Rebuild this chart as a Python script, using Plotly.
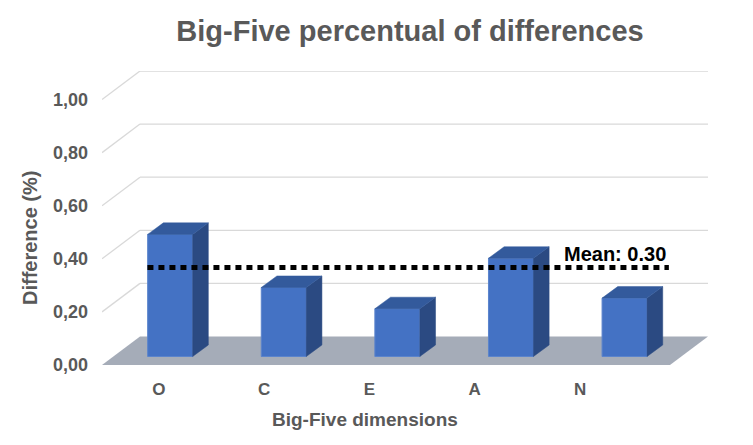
import plotly.graph_objects as go

# Big-Five dimensions and the share of differences
dimensions = ['O', 'C', 'E', 'A', 'N']
differences = [0.46, 0.26, 0.18, 0.37, 0.22]
y_ticks = [0.0, 0.2, 0.4, 0.6, 0.8, 1.0]
y_tick_labels = ['0,00', '0,20', '0,40', '0,60', '0,80', '1,00']
mean_label = 'Mean: 0.30'
mean_line_level = 0.335   # height of the dotted line, read against the bars

# fake 3D geometry (axis units)
DX, DY = 0.3345, 0.1075        # full floor depth
BAR_X0, BAR_BASE = 0.10, 0.032  # offset of the bar front plane
BAR_W = 0.396
BDX, BDY = 0.138, 0.0434       # bar depth
LABEL_STEP = 0.927             # category labels sit closer together (perspective)

FRONT = '#4472C4'
SIDE = '#2B4A82'
TOP = '#335A9C'
FLOOR = '#A5ACB8'
GRID = '#D9D9D9'
TEXT = '#595959'
FONT = 'Liberation Sans, Arial, sans-serif'

# the page body adds an 8px offset, so pull everything back by that much
OFF = 8

xs = [i + BAR_X0 for i in range(len(dimensions))]

fig = go.Figure()

# front faces
fig.add_trace(go.Bar(
    x=xs, y=differences, base=BAR_BASE, width=BAR_W,
    marker=dict(color=FRONT, line=dict(color='#5B84CC', width=1)),
    hoverinfo='skip', showlegend=False,
))

# side and top faces, built from the same values
side_x, side_y, top_x, top_y = [], [], [], []
for x, v in zip(xs, differences):
    xl, xr = x - BAR_W / 2, x + BAR_W / 2
    top = BAR_BASE + v
    side_x += [xr, xr + BDX, xr + BDX, xr, xr, None]
    side_y += [BAR_BASE, BAR_BASE + BDY, top + BDY, top, BAR_BASE, None]
    top_x += [xl, xl + BDX, xr + BDX, xr, xl, None]
    top_y += [top, top + BDY, top + BDY, top, top, None]

fig.add_trace(go.Scatter(x=side_x, y=side_y, fill='toself', fillcolor=SIDE,
                         mode='lines', line=dict(color=SIDE, width=0.5),
                         hoverinfo='skip', showlegend=False))
fig.add_trace(go.Scatter(x=top_x, y=top_y, fill='toself', fillcolor=TOP,
                         mode='lines', line=dict(color=TOP, width=0.5),
                         hoverinfo='skip', showlegend=False))

# mean line
fig.add_trace(go.Scatter(
    x=[-0.1, 4.49], y=[BAR_BASE + mean_line_level] * 2, mode='lines',
    line=dict(color='black', width=5, dash='6px,5px'),
    hoverinfo='skip', showlegend=False,
))

# back wall grid + side wall diagonals
shapes = []
for t in y_ticks[1:]:
    shapes.append(dict(type='line', xref='x', yref='y', layer='below',
                       x0=-0.5, y0=t, x1=-0.5 + DX, y1=t + DY,
                       line=dict(color=GRID, width=1.3)))
    shapes.append(dict(type='line', xref='x', yref='y', layer='below',
                       x0=-0.5 + DX, y0=t + DY, x1=4.5 + DX, y1=t + DY,
                       line=dict(color=GRID, width=1.3)))
# floor
shapes.append(dict(type='path', xref='x', yref='y', layer='below',
                   path=f'M -0.5 0 L 4.5 0 L {4.5 + DX} {DY} L {-0.5 + DX} {DY} Z',
                   fillcolor=FLOOR, line=dict(width=0)))

fig.update_layout(
    width=753, height=445, autosize=False,
    margin=dict(l=102 - OFF, r=45 + OFF, t=71 - OFF, b=80 + OFF),
    paper_bgcolor='white', plot_bgcolor='white',
    font=dict(family=FONT, color=TEXT),
    shapes=shapes,
    title=dict(text='Big-Five percentual of differences',
               x=(410 - OFF) / 753, y=1 - (31 - OFF) / 445,
               xref='container', yref='container', xanchor='center', yanchor='middle',
               font=dict(size=29, color=TEXT, weight='bold')),
    xaxis=dict(range=[-0.5, 4.5 + DX], showgrid=False, zeroline=False, showline=False,
               tickvals=[i * LABEL_STEP for i in range(len(dimensions))], ticktext=dimensions,
               ticklabelstandoff=12, fixedrange=True,
               tickfont=dict(size=17, color=TEXT, weight='bold')),
    yaxis=dict(range=[0, 1 + DY], showgrid=False, zeroline=False, showline=False,
               tickvals=y_ticks, ticktext=y_tick_labels, ticklabelstandoff=13,
               fixedrange=True,
               tickfont=dict(size=18, color=TEXT, weight='bold')),
    annotations=[
        dict(text='Big-Five dimensions', xref='paper', yref='paper',
             x=(365 - 102) / 606, y=(365 - 419) / 294, showarrow=False,
             xanchor='center', yanchor='middle',
             font=dict(size=19, color=TEXT, weight='bold')),
        dict(text='Difference (%)', xref='paper', yref='paper', textangle=-90,
             x=(30 - 102) / 606, y=(365 - 238) / 294, showarrow=False,
             xanchor='center', yanchor='middle',
             font=dict(size=20, color=TEXT, weight='bold')),
        dict(text=mean_label, xref='x', yref='y', x=3.549, y=0.419,
             xanchor='left', yanchor='middle', showarrow=False,
             font=dict(size=20, color='black', weight='bold')),
    ],
)

fig.write_html('out.html')
